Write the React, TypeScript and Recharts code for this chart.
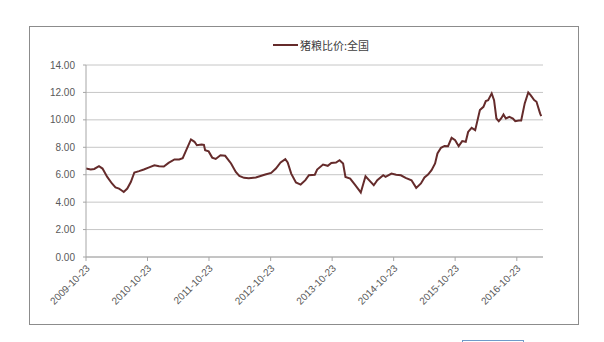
import { LineChart, Line, XAxis, YAxis, CartesianGrid } from "recharts";

// weeks since 2009-10-23
const weeks = [
  0, 4, 7, 11, 14, 18, 22, 25, 28, 30, 32, 35, 38, 41, 45, 49, 53, 58, 62, 66,
  70, 75, 79, 82, 85, 89, 92, 94, 98, 100, 101, 104, 107, 110, 114, 118, 123,
  127, 130, 134, 138, 144, 148, 152, 157, 161, 165, 169, 171, 174, 178, 182,
  186, 189, 194, 196, 201, 205, 208, 212, 215, 218, 220, 224, 228, 232, 233,
  237, 240, 244, 247, 252, 254, 259, 263, 267, 271, 276, 280, 284, 287, 290,
  293, 296, 298, 301, 304, 307, 310, 313, 316, 319, 322, 324, 327, 330, 332,
  334, 337, 339, 341, 344, 346, 348, 350, 352, 354, 356, 359, 362, 364, 367,
  369, 372, 375, 377, 380, 382, 385, 386,
];

// 猪粮比价:全国
const ratio = [
  6.45, 6.38, 6.42, 6.62, 6.45, 5.84, 5.36, 5.07, 4.99, 4.87, 4.74, 4.99, 5.47,
  6.16, 6.26, 6.38, 6.52, 6.69, 6.62, 6.6, 6.86, 7.11, 7.11, 7.2, 7.79, 8.57,
  8.4, 8.15, 8.2, 8.18, 7.79, 7.7, 7.25, 7.15, 7.42, 7.38, 6.82, 6.2, 5.91,
  5.77, 5.75, 5.8, 5.91, 6.01, 6.13, 6.45, 6.89, 7.13, 6.89, 6.08, 5.43, 5.28,
  5.6, 5.96, 6.0, 6.38, 6.74, 6.65, 6.86, 6.89, 7.06, 6.82, 5.84, 5.72, 5.28,
  4.82, 4.7, 5.89, 5.6, 5.23, 5.6, 5.96, 5.84, 6.08, 6.0, 5.96, 5.77, 5.6,
  5.04, 5.36, 5.8, 6.01, 6.33, 6.82, 7.55, 7.96, 8.1, 8.08, 8.69, 8.52, 8.08,
  8.45, 8.4, 9.12, 9.42, 9.25, 9.98, 10.71, 10.95, 11.37, 11.44, 11.93, 11.44,
  10.1, 9.9, 10.1, 10.39, 10.1, 10.22, 10.1, 9.9, 9.95, 9.95, 11.2, 12.0,
  11.8, 11.44, 11.32, 10.47, 10.27,
];

const tickLabels = [
  "2009-10-23",
  "2010-10-23",
  "2011-10-23",
  "2012-10-23",
  "2013-10-23",
  "2014-10-23",
  "2015-10-23",
  "2016-10-23",
];

const yTicks = [0, 2, 4, 6, 8, 10, 12, 14];

const WEEK = 7 * 86400000;
const start = Date.parse(tickLabels[0]);
const xTicks = tickLabels.map((d) => (Date.parse(d) - start) / WEEK);

const data = weeks.map((w, i) => ({ w, v: ratio[i] }));

const labelFont = "'Liberation Sans', Arial, sans-serif";
const lineColor = "#652b2b";

const DateTick = (props: any) => {
  const { x, y, payload } = props;
  const idx = xTicks.findIndex((t) => Math.abs(t - payload.value) < 0.01);
  return (
    <g transform={`translate(${x + 4.5},${y + 6})`}>
      <text
        x={0}
        y={0}
        transform="rotate(-45)"
        textAnchor="end"
        fontSize={10}
        fontFamily={labelFont}
        fill="#595959"
      >
        {idx >= 0 ? tickLabels[idx] : ""}
      </text>
    </g>
  );
};

export default function App() {
  return (
    <div
      style={{
        position: "absolute",
        left: 0,
        top: 0,
        width: 604,
        height: 342,
        background: "#fff",
        overflow: "hidden",
      }}
    >
      <div
        style={{
          position: "absolute",
          left: 29,
          top: 26,
          width: 548,
          height: 297,
          border: "1px solid #8c8c8c",
        }}
      />
      <div
        style={{
          position: "absolute",
          left: 462,
          top: 340,
          width: 60,
          height: 6,
          border: "1px solid #6f9bc9",
        }}
      />
      <div
        style={{
          position: "absolute",
          left: 273,
          top: 37,
          display: "flex",
          alignItems: "center",
          fontFamily: "'Noto Sans CJK SC', sans-serif",
          fontSize: 11,
          color: "#404040",
        }}
      >
        <span
          style={{
            display: "inline-block",
            width: 25,
            height: 2,
            background: lineColor,
            marginRight: 2,
          }}
        />
        <span>猪粮比价:全国</span>
      </div>
      <LineChart
        width={604}
        height={342}
        data={data}
        margin={{ top: 65, right: 61, left: 36, bottom: 25 }}
      >
        <CartesianGrid vertical={false} stroke="#c6c6c6" />
        <XAxis
          dataKey="w"
          type="number"
          domain={[0, 387.5]}
          ticks={xTicks}
          height={60}
          tick={<DateTick />}
          tickSize={4}
          interval={0}
          stroke="#a6a6a6"
        />
        <YAxis
          domain={[0, 14]}
          ticks={yTicks}
          width={50}
          tickSize={3}
          tickMargin={8}
          stroke="#a6a6a6"
          tickFormatter={(v: number) => v.toFixed(2)}
          tick={{ fontSize: 10, fontFamily: labelFont, fill: "#595959" }}
        />
        <Line
          type="linear"
          dataKey="v"
          stroke={lineColor}
          strokeWidth={2}
          dot={false}
          isAnimationActive={false}
        />
      </LineChart>
    </div>
  );
}
